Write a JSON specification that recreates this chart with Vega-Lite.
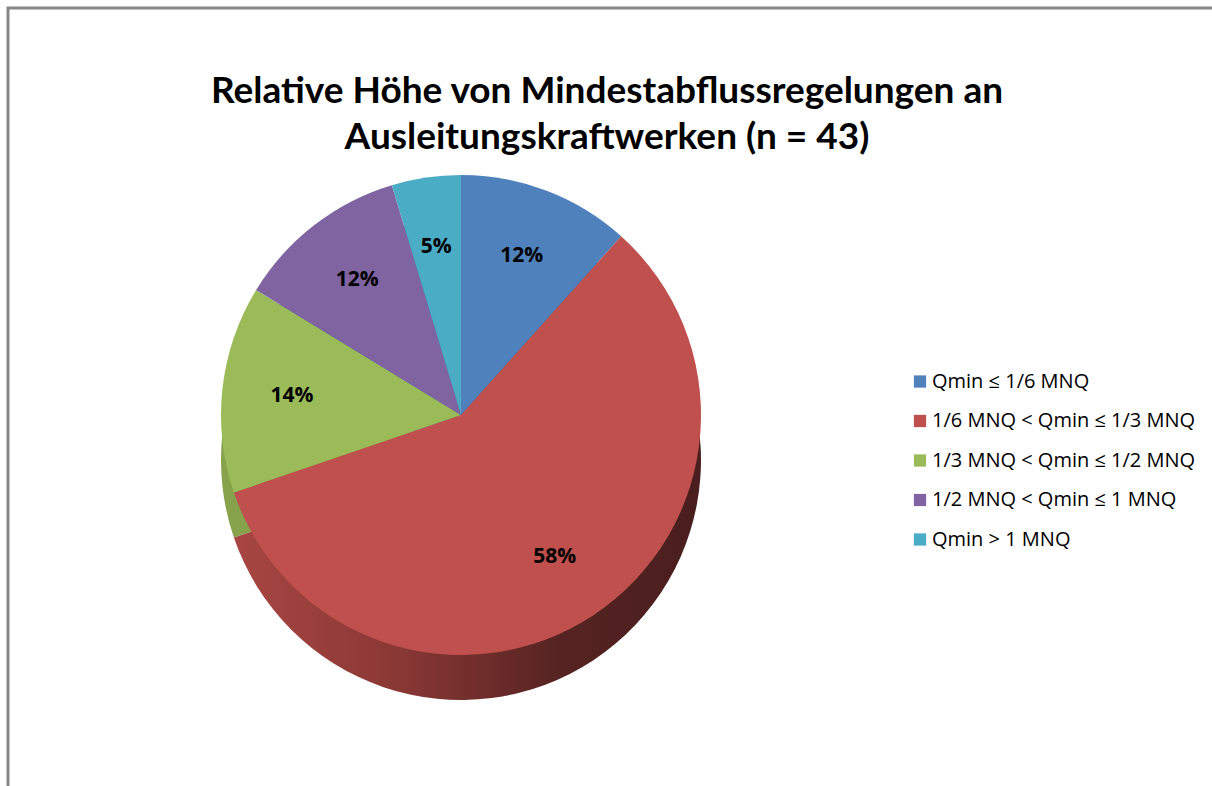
{
  "$schema": "https://vega.github.io/schema/vega-lite/v6.json",
  "autosize": "none",
  "padding": {"left": 8, "top": 8, "right": -16, "bottom": -22},
  "width": 1220,
  "height": 800,
  "background": "white",
  "view": {"stroke": "#878787", "strokeWidth": 3, "fill": "white"},
  "title": {
    "text": ["Relative Höhe von Mindestabflussregelungen an", "Ausleitungskraftwerken (n = 43)"],
    "font": "Lato",
    "fontSize": 37,
    "fontWeight": "bold",
    "color": "#000000",
    "anchor": "middle",
    "frame": "group",
    "dx": -11,
    "baseline": "top",
    "offset": -149,
    "lineHeight": 46
  },
  "data": {
    "values": [
      {"category": "Qmin ≤ 1/6 MNQ", "count": 5, "label": "12%", "idx": 1},
      {"category": "1/6 MNQ < Qmin ≤ 1/3 MNQ", "count": 25, "label": "58%", "idx": 2},
      {"category": "1/3 MNQ < Qmin ≤ 1/2 MNQ", "count": 6, "label": "14%", "idx": 3},
      {"category": "1/2 MNQ < Qmin ≤ 1 MNQ", "count": 5, "label": "12%", "idx": 4},
      {"category": "Qmin > 1 MNQ", "count": 2, "label": "5%", "idx": 5}
    ]
  },
  "encoding": {
    "theta": {"field": "count", "type": "quantitative", "stack": true},
    "order": {"field": "idx", "type": "quantitative", "sort": "ascending"}
  },
  "layer": [
    {
      "mark": {"type": "arc", "x": 453, "y": 407, "outerRadius": 240, "yOffset": 45},
      "encoding": {
        "fill": {
          "condition": [
            {
              "test": "datum.idx == 2",
              "value": {
                "gradient": "linear", "x1": 0, "y1": 0, "x2": 1, "y2": 0,
                "stops": [
                  {"offset": 0, "color": "#A84643"},
                  {"offset": 0.35, "color": "#8A3835"},
                  {"offset": 0.7, "color": "#552322"},
                  {"offset": 1, "color": "#4A1E1E"}
                ]
              }
            },
            {"test": "datum.idx == 3", "value": "#86A24B"}
          ],
          "value": "#3F6A9C"
        }
      }
    },
    {
      "mark": {"type": "arc", "x": 453, "y": 407, "outerRadius": 240},
      "encoding": {
        "color": {
          "field": "category",
          "type": "nominal",
          "sort": null,
          "scale": {
            "domain": ["Qmin ≤ 1/6 MNQ", "1/6 MNQ < Qmin ≤ 1/3 MNQ", "1/3 MNQ < Qmin ≤ 1/2 MNQ", "1/2 MNQ < Qmin ≤ 1 MNQ", "Qmin > 1 MNQ"],
            "range": ["#4F81BD", "#C0504D", "#9BBB59", "#8064A2", "#4BACC6"]
          },
          "legend": {
            "title": null,
            "orient": "none",
            "direction": "vertical",
            "legendX": 902,
            "legendY": 363.5,
            "symbolType": "square",
            "symbolSize": 150,
            "symbolStrokeWidth": 0,
            "labelFont": "Open Sans",
            "labelFontSize": 20,
            "labelColor": "#000000",
            "labelOffset": 2,
            "rowPadding": 19.5,
            "labelLimit": 400
          }
        }
      }
    },
    {
      "mark": {"type": "text", "x": 453, "y": 407, "radius": 170, "font": "Open Sans", "fontSize": 21, "fontWeight": "bold", "color": "#000000", "align": "center", "baseline": "middle"},
      "encoding": {"text": {"field": "label", "type": "nominal"}}
    }
  ]
}
